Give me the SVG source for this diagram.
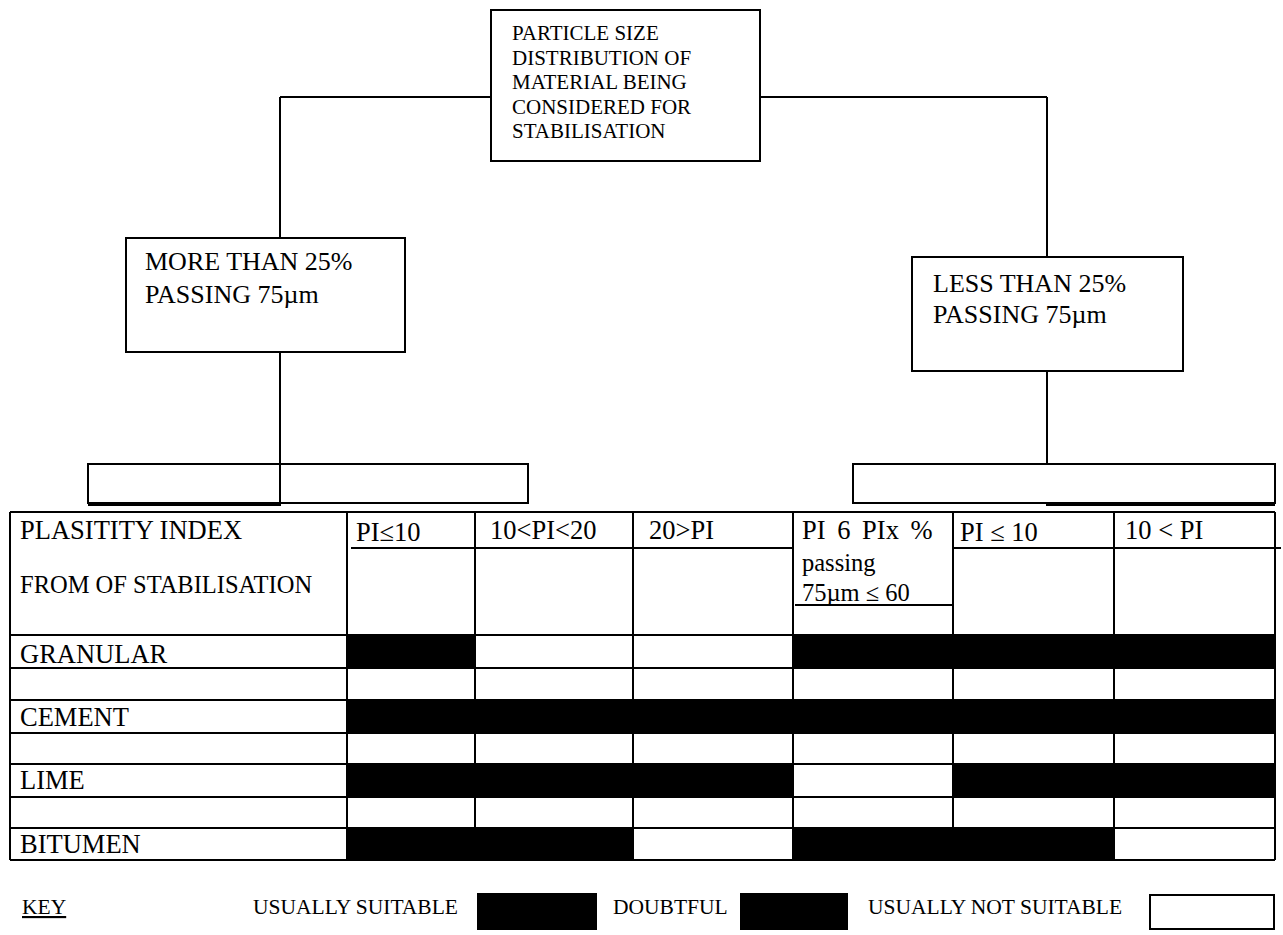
<svg xmlns="http://www.w3.org/2000/svg" width="1283" height="935" viewBox="0 0 1283 935">
<style>
.box{fill:#fff;stroke:#000;stroke-width:2}
.ln{stroke:#000;stroke-width:2;fill:none}
.blk{fill:#000}
.t{font-family:"Liberation Serif","Times New Roman",serif;fill:#000}
.tb{font-size:21px}
.tn{font-size:26px}
.tt{font-size:26.5px}
.ts{font-size:24.5px}
.tk{font-size:21.5px}
</style>
<rect width="1283" height="935" fill="#fff"/>
<g id="connectors">
<path class="ln" d="M280,97 H491 M760,97 H1047 M280,97 V238 M280,352 V506 M1047,97 V257 M1047,371 V506"/>
</g>
<g id="top-node">
<rect class="box" x="491" y="10" width="269" height="151"/>
<text class="t tb" x="512" y="40">PARTICLE SIZE</text>
<text class="t tb" x="512" y="64.5">DISTRIBUTION OF</text>
<text class="t tb" x="512" y="89">MATERIAL BEING</text>
<text class="t tb" x="512" y="113.5">CONSIDERED FOR</text>
<text class="t tb" x="512" y="138">STABILISATION</text>
</g>
<g id="more-node">
<rect class="box" x="126" y="238" width="279" height="114"/>
<text class="t tn" x="145" y="270">MORE THAN 25%</text>
<text class="t tn" x="145" y="303">PASSING 75µm</text>
</g>
<g id="less-node">
<rect class="box" x="912" y="257" width="271" height="114"/>
<text class="t tn" x="933" y="292">LESS THAN 25%</text>
<text class="t tn" x="933" y="323">PASSING 75µm</text>
</g>
<g id="left-split">
<rect class="box" x="88" y="464" width="440" height="39" fill="none"/>
<path class="ln" d="M88,505 H280 V464"/>
</g>
<g id="right-split">
<rect class="box" x="853" y="464" width="422" height="39" fill="none"/>
<path class="ln" d="M1047,505 H1275"/>
</g>
<g id="table">
<rect class="blk" x="347" y="635" width="128" height="33"/>
<rect class="blk" x="793" y="635" width="482" height="33"/>
<rect class="blk" x="347" y="700" width="928" height="33"/>
<rect class="blk" x="347" y="764" width="446" height="33"/>
<rect class="blk" x="953" y="764" width="322" height="33"/>
<rect class="blk" x="347" y="828" width="286" height="32"/>
<rect class="blk" x="793" y="828" width="321" height="32"/>
<path class="ln" d="M10,512 H1275 M10,635 H1275 M10,668 H1275 M10,700 H1275 M10,733 H1275 M10,764 H1275 M10,797 H1275 M10,828 H1275 M10,860 H1275"/>
<path class="ln" d="M10,512 V860 M347,512 V860 M475,512 V860 M633,512 V860 M793,512 V860 M953,512 V860 M1114,512 V860 M1275,512 V860"/>
<path class="ln" d="M351,548 H793 M953,548 H1281 M795,605 H953"/>
<text class="t tt" x="20" y="539">PLASITITY INDEX</text>
<text class="t ts" x="20" y="593">FROM OF STABILISATION</text>
<text class="t tt" x="356" y="541">PI≤10</text>
<text class="t tt" x="490" y="539">10&lt;PI&lt;20</text>
<text class="t tt" x="649" y="539">20&gt;PI</text>
<text class="t tt" x="802" y="539" word-spacing="5">PI 6 PIx %</text>
<text class="t ts" x="802" y="571">passing</text>
<text class="t ts" x="802" y="601">75µm ≤ 60</text>
<text class="t tt" x="960" y="541">PI ≤ 10</text>
<text class="t tt" x="1125" y="539">10 &lt; PI</text>
<text class="t tt" x="20" y="663">GRANULAR</text>
<text class="t tt" x="20" y="726">CEMENT</text>
<text class="t tt" x="20" y="789">LIME</text>
<text class="t tt" x="20" y="853">BITUMEN</text>
</g>
<g id="key">
<text class="t tk" x="22" y="914" text-decoration="underline">KEY</text>
<text class="t tk" x="253" y="914">USUALLY SUITABLE</text>
<rect class="blk" x="477" y="893" width="120" height="37"/>
<text class="t tk" x="613" y="914">DOUBTFUL</text>
<rect class="blk" x="740" y="893" width="108" height="37"/>
<text class="t tk" x="868" y="914">USUALLY NOT SUITABLE</text>
<rect class="box" x="1150" y="895" width="124" height="34"/>
</g>
</svg>
